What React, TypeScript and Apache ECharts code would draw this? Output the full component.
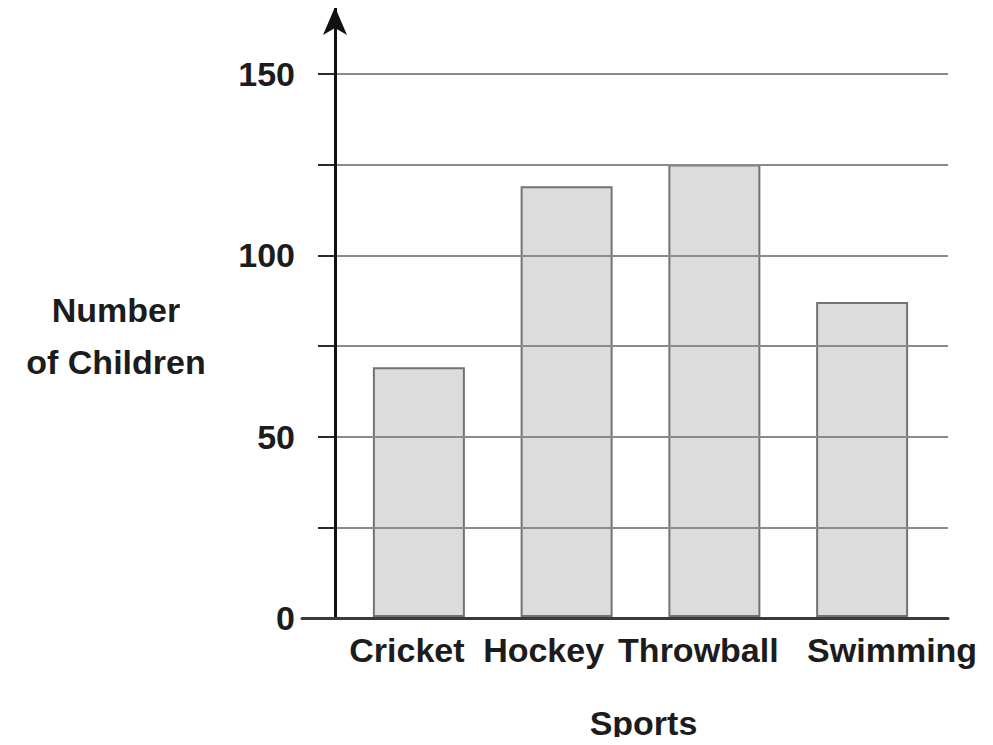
import React, { useEffect, useRef } from "react";
import * as echarts from "echarts";

const categories = ["Cricket", "Hockey", "Throwball", "Swimming"];
const childrenCounts = [69, 119, 125, 87];
const yTicks = { min: 0, max: 150, interval: 25, labelStep: 50 };
const xAxisTitle = "Sports";
const yAxisTitle = "Number\nof Children";

// horizontal nudge of each category label relative to its bar (styling only)
const labelNudge = [-12, -23, -16, 30];

const FONT = "'Liberation Sans', Arial, Helvetica, sans-serif";

export default function App() {
  const ref = useRef<HTMLDivElement>(null);
  useEffect(() => {
    if (!ref.current) return;
    const chart = echarts.init(ref.current, null, { renderer: "svg" });
    const bold = { fontFamily: FONT, fontWeight: "bold", fontSize: 34, color: "#1c1c1c" };
    const categoryData = categories.map((c, i) => {
      const d = labelNudge[i];
      return {
        value: c,
        textStyle: { padding: d >= 0 ? [0, 0, 0, 2 * d] : [0, -2 * d, 0, 0] },
      };
    });
    chart.setOption({
      animation: false,
      backgroundColor: "#ffffff",
      grid: [
        { left: 335, right: 45, top: 74, bottom: 127 },
        { left: 345, right: 57, top: 74, bottom: 127 },
        { left: 302, right: 45, top: 7, bottom: 127 },
      ],
      xAxis: [
        { gridIndex: 0, type: "value", show: false },
        {
          gridIndex: 1,
          type: "category",
          data: categoryData,
          axisLine: { show: false },
          axisTick: { show: false },
          axisLabel: { ...bold, margin: 16, interval: 0 },
          name: xAxisTitle,
          nameLocation: "middle",
          nameGap: 89,
          nameTextStyle: { ...bold, padding: [0, 0, 0, 6] },
        },
        {
          gridIndex: 2,
          type: "value",
          min: 0,
          max: 1,
          z: 10,
          axisLine: { show: true, lineStyle: { color: "#3a3a3a", width: 3 } },
          axisTick: { show: false },
          axisLabel: { show: false },
          splitLine: { show: false },
        },
      ],
      yAxis: [
        {
          gridIndex: 0,
          type: "value",
          min: yTicks.min,
          max: yTicks.max,
          interval: yTicks.interval,
          z: 5,
          axisLine: { show: false },
          axisTick: { show: true, length: 17, lineStyle: { color: "#2a2a2a", width: 2 } },
          axisLabel: {
            ...bold,
            margin: 40,
            formatter: (v: number) => (v % yTicks.labelStep === 0 ? String(v) : ""),
          },
          splitLine: { show: true, lineStyle: { color: "#8a8a8a", width: 2 } },
        },
        {
          gridIndex: 1,
          type: "value",
          min: yTicks.min,
          max: yTicks.max,
          show: false,
          splitLine: { show: false },
        },
        {
          gridIndex: 2,
          type: "value",
          min: 0,
          max: 1,
          offset: -33,
          z: 10,
          axisLine: {
            show: true,
            lineStyle: { color: "#111111", width: 3 },
            symbol: ["none", "arrow"],
            symbolSize: [18, 28],
          },
          axisTick: { show: false },
          axisLabel: { show: false },
          splitLine: { show: false },
        },
      ],
      series: [
        {
          type: "bar",
          xAxisIndex: 1,
          yAxisIndex: 1,
          data: childrenCounts,
          barWidth: 92,
          itemStyle: { color: "#dcdcdd", borderColor: "#737373", borderWidth: 2 },
        },
      ],
      graphic: [
        {
          type: "text",
          x: 116,
          y: 336,
          style: {
            text: yAxisTitle,
            align: "center",
            verticalAlign: "middle",
            fontFamily: FONT,
            fontWeight: "bold",
            fontSize: 34,
            lineHeight: 52,
            fill: "#1c1c1c",
          },
        },
      ],
    });
    return () => chart.dispose();
  }, []);
  return <div ref={ref} style={{ width: 993, height: 745, margin: -8 }} />;
}
